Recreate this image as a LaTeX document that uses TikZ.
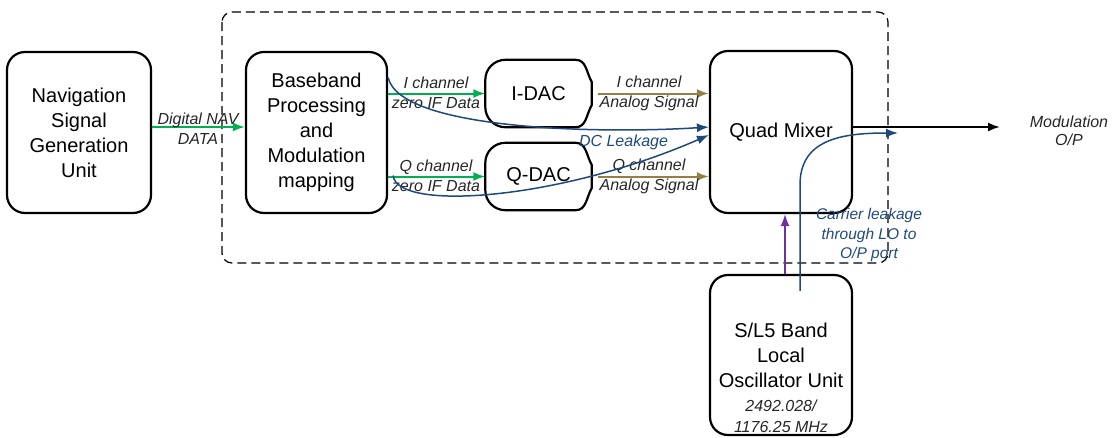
\documentclass[tikz,border=0pt]{standalone}
\usepackage{fontspec}
\setmainfont{Liberation Sans}
\usetikzlibrary{arrows.meta,calc}
\definecolor{cgreen}{RGB}{0,176,80}
\definecolor{cbrown}{RGB}{148,128,70}
\definecolor{cblue}{RGB}{31,73,125}
\definecolor{cpurple}{RGB}{112,48,160}
\newcommand\dacpath[1]{%
\draw[line width=2.2pt, line join=round] ($(#1.north west)+(20,0)$) -- ($(#1.north east)+(-16,0)$) to[out=0,in=120] ($(#1.north east)+(0,22)$) -- ($(#1.south east)+(0,-22)$) to[out=240,in=0] ($(#1.south east)+(-16,0)$) -- ($(#1.south west)+(20,0)$) arc[start angle=90,end angle=180,radius=20] -- ($(#1.north west)+(0,20)$) arc[start angle=180,end angle=270,radius=20] -- cycle;}
\begin{document}
\begin{tikzpicture}[x=1pt,y=-1pt,
 bx/.style={draw, line width=2.2pt, rounded corners=18pt, align=center, font=\fontsize{20}{25}\selectfont, inner sep=0pt},
 dac/.style={align=center, font=\fontsize{20}{25}\selectfont, inner sep=0pt, minimum width=106pt, minimum height=67pt},
 lbl/.style={font=\fontsize{16}{20}\selectfont\itshape, align=center, inner sep=0pt, text=black!85},
 blbl/.style={lbl, text=cblue},
 arr/.style={line width=2pt, -{Latex[length=12pt,width=9pt]}},
 carr/.style={line width=1.5pt, cblue, -{Latex[length=12pt,width=9pt]}},
]
\useasboundingbox (0,0) rectangle (1112,437);
\draw[line width=1.2pt, dash pattern=on 9pt off 5pt, rounded corners=10pt] (222,12) rectangle (888,263);

\node[bx, minimum width=144pt, minimum height=161pt] (nav) at (79,132.5) {Navigation\\Signal\\Generation\\Unit};
\node[bx, minimum width=141pt, minimum height=161pt] (bb) at (316.5,132.5) {Baseband\\Processing\\and\\Modulation\\mapping};
\node[dac] (idac) at (538.5,93.5) {I-DAC};
\node[dac] (qdac) at (538.5,176.5) {Q-DAC};
\dacpath{idac}
\dacpath{qdac}
\node[bx, minimum width=142pt, minimum height=162pt] (qm) at (781,132) {Quad Mixer};
\node[bx, minimum width=142pt, minimum height=160pt] (lo) at (781,355) {};
\node[align=center, inner sep=0pt, font=\fontsize{20}{25}\selectfont] (lotxt) at (781,355) {S/L5 Band\\Local\\Oscillator Unit};
\node[lbl, font=\fontsize{16}{21}\selectfont\itshape] (lofreq) at (781,416.5) {2492.028/\\1176.25 MHz};

% green data arrows
\draw[arr, cgreen] ($(nav.east)+(0,-5.5)$) -- ($(bb.west)+(0,-5.5)$);
\node[lbl] (navlab) at (198,128.5) {Digital NAV\\DATA};
\draw[arr, cgreen] (bb.east |- idac.west) -- (idac.west);
\draw[arr, cgreen] (bb.east |- qdac.west) -- (qdac.west);
\node[lbl] (ilab) at (436,93) {I channel\\zero IF Data};
\node[lbl] (qlab) at (436,176) {Q channel\\zero IF Data};

% analog arrows
\draw[arr, cbrown] ($(idac.east)+(6,0)$) -- (qm.west |- idac.east);
\draw[arr, cbrown] ($(qdac.east)+(6,0)$) -- (qm.west |- qdac.east);
\node[lbl] (ialab) at (649,93) {I channel\\Analog Signal};
\node[lbl] (qalab) at (649,176) {Q channel\\Analog Signal};

% DC leakage
\draw[carr] ($(bb.east)+(0,-55)$) .. controls (400,130) and (600,134) .. ($(qm.west)+(0,-5)$);
\draw[carr] ($(bb.east)+(5,43)$) .. controls (397,212) and (560,200) .. ($(qm.west)+(0,3)$);
\node[blbl] (dclab) at (623.5,142) {DC Leakage};

% output
\coordinate (outp) at (1000,127);
\draw[arr, black] ($(qm.east)+(0,-5)$) -- (outp);
\node[lbl, font=\fontsize{16}{18}\selectfont\itshape] (modlab) at (1069,131) {Modulation\\O/P};

% LO to mixer
\draw[arr, cpurple, line width=1.5pt] ($(lo.north)+(4,0)$) -- ($(qm.south)+(4,0)$);
\coordinate (clend) at (898,133);
\draw[carr] ($(lo.north)+(19,17)$) -- (800,185) .. controls (800,140) and (840,133) .. (clend);
\node[blbl, font=\fontsize{15.5}{19.5}\selectfont\itshape] (cllab) at (869,235) {Carrier leakage\\through LO to\\O/P port};
\end{tikzpicture}
\end{document}
